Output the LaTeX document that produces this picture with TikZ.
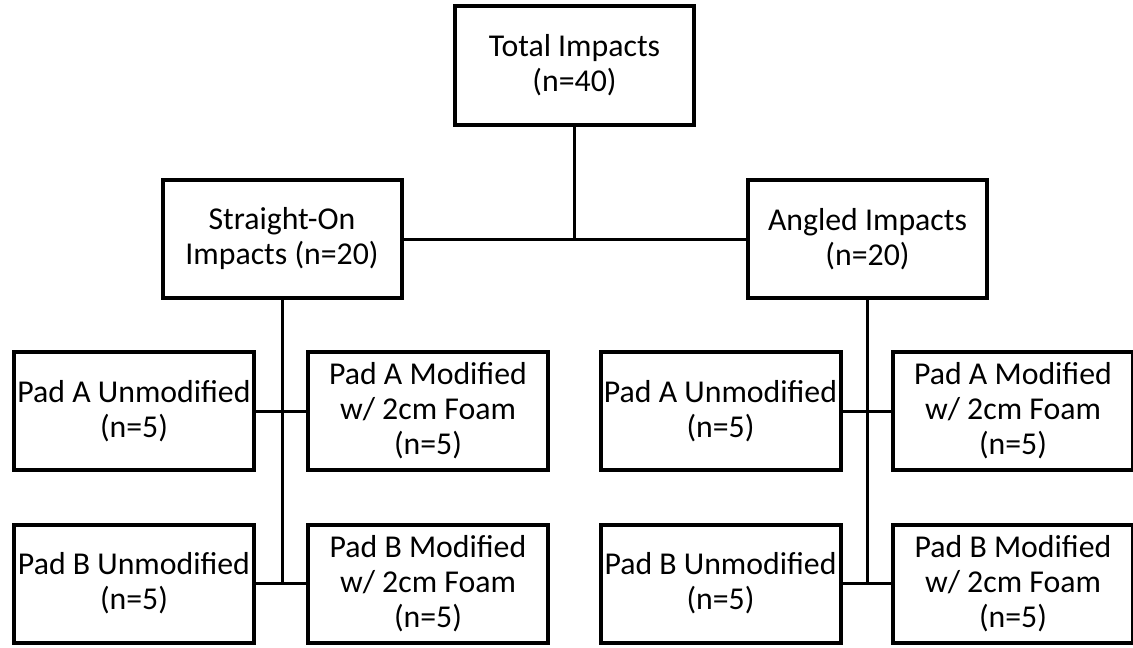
\documentclass[tikz,border=0pt]{standalone}
\usepackage{fontspec}
\setmainfont{Carlito}
\usetikzlibrary{positioning}

\begin{document}
\begin{tikzpicture}[x=1pt, y=-1pt,
        box/.style={draw, line width=4pt, align=center, inner sep=0pt,
            font=\fontsize{31.8}{35}\selectfont},
        bigbox/.style={box, minimum width=239pt, minimum height=118.5pt},
        padbox/.style={box, minimum width=240pt, minimum height=118pt},
        link/.style={line width=3pt}]
        \useasboundingbox (0, 0) rectangle (1133, 648);
        % top level
        \node[bigbox] (total) at (574.5, 65.5) {Total Impacts\\(n=40)};
        \node[bigbox] (straight) at (282, 239) {Straight-On\\Impacts (n=20)};
        \node[bigbox] (angled) at (867.5, 239) {Angled Impacts\\(n=20)};
        % straight-on pads
        \node[padbox] (sAunmod) at (134, 411) {Pad A Unmodified\\(n=5)};
        \node[padbox] (sAmod) at (428, 411) {Pad A Modified\\w/ 2cm Foam\\(n=5)};
        \node[padbox] (sBunmod) at (134, 583.5) {Pad B Unmodified\\(n=5)};
        \node[padbox] (sBmod) at (428, 583.5) {Pad B Modified\\w/ 2cm Foam\\(n=5)};
        % angled pads
        \node[padbox] (aAunmod) at (720.5, 411) {Pad A Unmodified\\(n=5)};
        \node[padbox] (aAmod) at (1013, 411) {Pad A Modified\\w/ 2cm Foam\\(n=5)};
        \node[padbox] (aBunmod) at (720.5, 583.5) {Pad B Unmodified\\(n=5)};
        \node[padbox] (aBmod) at (1013, 583.5) {Pad B Modified\\w/ 2cm Foam\\(n=5)};
        \coordinate (top) at (total |- straight);
        \coordinate (sbot) at (straight |- sBunmod);
        \coordinate (abot) at (angled |- aBunmod);
        % connectors
        \draw[link] (straight) -- (angled);
        \draw[link] (total) -- (top);
        \draw[link] (straight) -- (sbot);
        \draw[link] (angled) -- (abot);
        \draw[link] (sAunmod) -- (sAmod);
        \draw[link] (sBunmod) -- (sBmod);
        \draw[link] (aAunmod) -- (aAmod);
        \draw[link] (aBunmod) -- (aBmod);
    \end{tikzpicture}
\end{document}
